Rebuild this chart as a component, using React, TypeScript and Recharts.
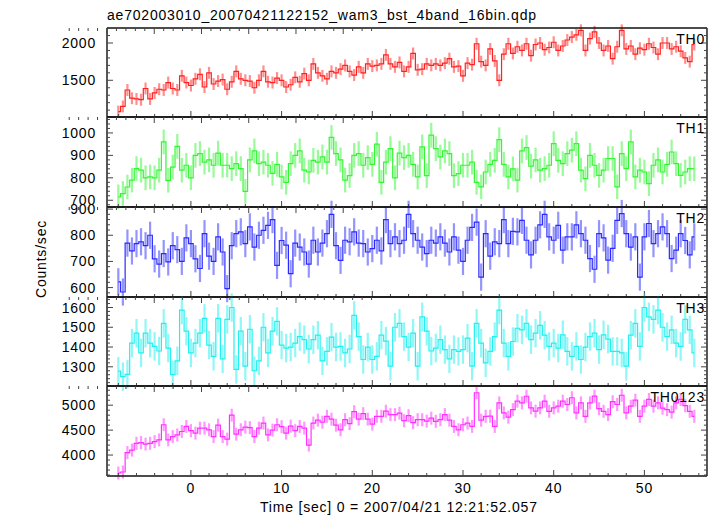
import { ErrorBar, Line, LineChart, XAxis, YAxis } from 'recharts'

// light curve bins: first bin centre and bin width (sec)
const T0 = -8
const BIN = 0.5

const TH0 = [
  1080, 1150, 1370, 1260, 1250, 1240, 1390, 1250, 1330, 1380, 1370, 1470, 1390, 1370, 1560, 1470,
  1430, 1520, 1580, 1410, 1600, 1450, 1490, 1510, 1380, 1480, 1620, 1520, 1500, 1490, 1400, 1500,
  1620, 1480, 1470, 1530, 1500, 1410, 1440, 1540, 1480, 1590, 1500, 1720, 1600, 1560, 1520, 1620,
  1600, 1650, 1700, 1620, 1570, 1680, 1600, 1720, 1690, 1700, 1720, 1840, 1720, 1680, 1740, 1620,
  1680, 1860, 1640, 1650, 1720, 1700, 1720, 1700, 1730, 1790, 1680, 1690, 1560, 1730, 1710, 1990,
  1750, 1700, 1920, 1760, 1500, 1850, 1990, 1860, 1950, 1900, 1990, 1830, 1980, 2000, 1910, 1940,
  2010, 1900, 1960, 2040, 2080, 2110, 2170, 1900, 2060, 2150, 2000, 1900, 1960, 1790, 1950, 2170,
  1920, 1960, 1850, 1930, 1910, 1990, 1940, 1850, 2000, 2000, 1920, 1950, 1890, 1800, 1750, 1980,
]
const TH1 = [
  715, 730, 759, 790, 841, 834, 800, 804, 800, 834, 960, 789, 848, 940, 834, 856,
  800, 900, 908, 870, 880, 856, 910, 856, 856, 841, 863, 841, 740, 880, 920, 863,
  870, 856, 820, 860, 804, 780, 863, 900, 920, 834, 826, 878, 870, 893, 870, 980,
  908, 880, 790, 810, 900, 908, 856, 890, 860, 950, 780, 870, 930, 800, 910, 890,
  900, 860, 804, 938, 810, 990, 930, 893, 920, 908, 810, 819, 856, 856, 870, 780,
  760, 826, 860, 878, 970, 860, 804, 840, 790, 920, 935, 852, 880, 834, 841, 856,
  952, 878, 863, 908, 923, 952, 834, 796, 900, 856, 811, 834, 886, 886, 760, 908,
  841, 960, 804, 834, 826, 774, 856, 880, 826, 860, 915, 863, 811, 826, 841, 840,
]
const TH2 = [
  622, 583, 770, 740, 768, 775, 760, 800, 710, 690, 730, 698, 760, 745, 700, 790,
  768, 710, 673, 806, 720, 700, 794, 736, 596, 760, 806, 813, 768, 832, 755, 800,
  819, 838, 860, 685, 780, 762, 653, 770, 755, 736, 690, 781, 736, 770, 806, 880,
  760, 704, 781, 775, 813, 770, 768, 736, 749, 781, 740, 860, 768, 794, 768, 781,
  880, 806, 781, 755, 730, 781, 770, 794, 770, 736, 794, 743, 700, 781, 830, 850,
  640, 806, 720, 775, 768, 860, 768, 815, 813, 857, 781, 725, 781, 840, 880, 794,
  781, 838, 743, 794, 794, 840, 806, 781, 711, 670, 806, 790, 705, 750, 857, 883,
  806, 755, 794, 640, 794, 845, 768, 806, 832, 806, 711, 743, 806, 780, 725, 794,
]
const TH3 = [
  1278, 1250, 1262, 1420, 1470, 1370, 1470, 1420, 1403, 1380, 1520, 1395, 1260, 1330, 1587, 1480,
  1370, 1420, 1470, 1545, 1410, 1353, 1545, 1340, 1540, 1600, 1287, 1480, 1303, 1490, 1280, 1330,
  1500, 1370, 1480, 1530, 1410, 1395, 1400, 1420, 1453, 1437, 1390, 1437, 1460, 1330, 1378, 1450,
  1400, 1403, 1370, 1390, 1560, 1453, 1337, 1400, 1337, 1353, 1460, 1430, 1303, 1500, 1520, 1453,
  1400, 1470, 1303, 1553, 1480, 1380, 1395, 1437, 1387, 1340, 1387, 1378, 1387, 1445, 1303, 1520,
  1420, 1320, 1378, 1453, 1587, 1420, 1353, 1428, 1495, 1487, 1520, 1437, 1470, 1510, 1460, 1403,
  1420, 1395, 1462, 1378, 1353, 1403, 1337, 1400, 1453, 1470, 1387, 1462, 1440, 1378, 1378, 1370,
  1303, 1460, 1520, 1403, 1600, 1553, 1540, 1587, 1500, 1453, 1487, 1420, 1403, 1540, 1487, 1370,
]
const TH0123 = [
  3640, 3660, 4050, 4100, 4236, 4250, 4220, 4236, 4270, 4304, 4608, 4304, 4371, 4405, 4473, 4574,
  4490, 4440, 4540, 4540, 4507, 4371, 4600, 4371, 4320, 4800, 4420, 4507, 4560, 4550, 4371, 4540,
  4642, 4405, 4500, 4608, 4570, 4440, 4580, 4490, 4574, 4540, 4200, 4642, 4700, 4660, 4777, 4720,
  4600, 4507, 4709, 4630, 4870, 4720, 4830, 4720, 4620, 4777, 4777, 4880, 4811, 4811, 4840, 4690,
  4790, 4650, 4709, 4709, 4680, 4740, 4676, 4709, 4811, 4700, 4574, 4507, 4608, 4642, 4574, 5250,
  4700, 4777, 4780, 4574, 5047, 4845, 4760, 4910, 5081, 5047, 5180, 4946, 4880, 4946, 5080, 4878,
  4946, 4980, 5080, 5014, 5150, 4845, 5047, 4777, 5047, 5182, 4930, 4878, 4811, 5070, 5014, 5200,
  4845, 4980, 5100, 4777, 4980, 5115, 4980, 5047, 4940, 4912, 4860, 5047, 5115, 4990, 4878, 4777,
]

// typical 1-sigma error per band
const ERR_TH0 = 80
const ERR_TH1 = 55
const ERR_TH2 = 52
const ERR_TH3 = 72
const ERR_TH0123 = 130

const X_DOMAIN: [number, number] = [-9.25, 56.9]
const X_MAJOR = [0, 10, 20, 30, 40, 50]
const X_MINOR = [-8, -6, -4, -2, 0, 2, 4, 6, 8, 10, 12, 14, 16, 18, 20, 22, 24, 26, 28, 30, 32, 34, 36, 38, 40, 42, 44, 46, 48, 50, 52, 54, 56]

const Y_MAJOR_TH0 = [1500, 2000]
const Y_MINOR_TH0 = [1100, 1200, 1300, 1400, 1500, 1600, 1700, 1800, 1900, 2000, 2100, 2200]
const Y_MAJOR_TH1 = [700, 800, 900, 1000]
const Y_MINOR_TH1 = [680, 700, 720, 740, 760, 780, 800, 820, 840, 860, 880, 900, 920, 940, 960, 980, 1000, 1020, 1040, 1060]
const Y_MAJOR_TH2 = [600, 700, 800, 900]
const Y_MINOR_TH2 = [580, 600, 620, 640, 660, 680, 700, 720, 740, 760, 780, 800, 820, 840, 860, 880, 900]
const Y_MAJOR_TH3 = [1300, 1400, 1500, 1600]
const Y_MINOR_TH3 = [1220, 1240, 1260, 1280, 1300, 1320, 1340, 1360, 1380, 1400, 1420, 1440, 1460, 1480, 1500, 1520, 1540, 1560, 1580, 1600, 1620, 1640]
const Y_MAJOR_TH0123 = [4000, 4500, 5000]
const Y_MINOR_TH0123 = [3600, 3700, 3800, 3900, 4000, 4100, 4200, 4300, 4400, 4500, 4600, 4700, 4800, 4900, 5000, 5100, 5200, 5300]

const FONT = '"Liberation Sans", Arial, sans-serif'
const FRAME = '#111'
const TICK = '#444'

const PANELS = [
  { name: 'TH0', values: TH0, err: ERR_TH0, color: '#ff2020', domain: [1008, 2201], major: Y_MAJOR_TH0, minor: Y_MINOR_TH0, top: 28, h: 89 },
  { name: 'TH1', values: TH1, err: ERR_TH1, color: '#33f533', domain: [670, 1071], major: Y_MAJOR_TH1, minor: Y_MINOR_TH1, top: 117, h: 90 },
  { name: 'TH2', values: TH2, err: ERR_TH2, color: '#2a2aff', domain: [564, 908], major: Y_MAJOR_TH2, minor: Y_MINOR_TH2, top: 207, h: 90 },
  { name: 'TH3', values: TH3, err: ERR_TH3, color: '#22f0f0', domain: [1203, 1653], major: Y_MAJOR_TH3, minor: Y_MINOR_TH3, top: 297, h: 89 },
  { name: 'TH0123', values: TH0123, err: ERR_TH0123, color: '#ff30ff', domain: [3580, 5385], major: Y_MAJOR_TH0123, minor: Y_MINOR_TH0123, top: 386, h: 90 },
]

const PAD = 12
const THIN = 0.01
const MAJ_LEN = 6
const MIN_LEN = 3

type Side = 'left' | 'right' | 'top' | 'bottom'

// inward-pointing tick mark (major/minor) at the coordinate recharts hands us,
// plus a label for majors when asked
function makeTick(side: Side, majors: number[], labelled: boolean) {
  return function TickMark(props: any) {
    const { x, y, payload } = props
    const isMajor = majors.includes(payload.value)
    const len = isMajor ? MAJ_LEN : MIN_LEN
    let line
    if (side === 'left') line = <line x1={x} y1={y} x2={x + len} y2={y} stroke={TICK} />
    else if (side === 'right') line = <line x1={x} y1={y} x2={x - len} y2={y} stroke={TICK} />
    else if (side === 'top') line = <line x1={x} y1={y} x2={x} y2={y + len} stroke={TICK} />
    else line = <line x1={x} y1={y} x2={x} y2={y - len} stroke={TICK} />
    let label = null
    if (labelled && isMajor) {
      label =
        side === 'left' ? (
          <text x={x - 11} y={y} dy="0.36em" textAnchor="end" fontSize={14} fill="#000">
            {payload.value}
          </text>
        ) : (
          <text x={x} y={y + 7} dy="0.71em" textAnchor="middle" fontSize={14} fill="#000">
            {payload.value}
          </text>
        )
    }
    return (
      <g>
        {line}
        {label}
      </g>
    )
  }
}

function Panel({ p, last }: { p: (typeof PANELS)[number]; last: boolean }) {
  const axisH = last ? 22 : THIN
  const data = p.values.map((v, i) => ({ t: T0 + i * BIN, v, e: p.err }))
  const frame = { stroke: FRAME, strokeWidth: 1.4 }
  return (
    <div style={{ position: 'absolute', left: 0, top: p.top - PAD }}>
      <LineChart
        width={717}
        height={p.h + 2 * PAD + (last ? axisH : 0)}
        data={data}
        margin={{ top: PAD, right: 10, bottom: PAD, left: 0 }}
      >
        <XAxis
          xAxisId="x"
          dataKey="t"
          type="number"
          domain={X_DOMAIN}
          allowDataOverflow
          ticks={X_MINOR}
          interval={0}
          height={axisH}
          tickSize={0}
          tickMargin={0}
          axisLine={frame}
          tickLine={false}
          tick={makeTick('bottom', X_MAJOR, last)}
        />
        <XAxis
          xAxisId="xt"
          type="number"
          orientation="top"
          domain={X_DOMAIN}
          allowDataOverflow
          ticks={X_MINOR}
          interval={0}
          height={THIN}
          tickSize={0}
          tickMargin={0}
          axisLine={frame}
          tickLine={false}
          tick={makeTick('top', X_MAJOR, false)}
        />
        <YAxis
          yAxisId="y"
          type="number"
          domain={p.domain}
          allowDataOverflow
          ticks={p.minor}
          interval={0}
          width={107}
          tickSize={0}
          tickMargin={0}
          axisLine={frame}
          tickLine={false}
          tick={makeTick('left', p.major, true)}
        />
        <YAxis
          yAxisId="yr"
          type="number"
          orientation="right"
          domain={p.domain}
          allowDataOverflow
          ticks={p.minor}
          interval={0}
          width={THIN}
          tickSize={0}
          tickMargin={0}
          axisLine={frame}
          tickLine={false}
          tick={makeTick('right', p.major, false)}
        />

        {/* error bars underneath, step line on top */}
        <Line xAxisId="x" yAxisId="y" dataKey="v" type="step" stroke="none" dot={false} activeDot={false} isAnimationActive={false}>
          <ErrorBar dataKey="e" direction="y" width={0} stroke={p.color} strokeOpacity={0.5} strokeWidth={2.2} isAnimationActive={false} />
        </Line>
        <Line xAxisId="x" yAxisId="y" dataKey="v" type="step" stroke={p.color} strokeWidth={1.2} dot={false} activeDot={false} isAnimationActive={false} />
      </LineChart>
    </div>
  )
}

export default function App() {
  return (
    <div
      style={{
        position: 'absolute',
        left: 0,
        top: 0,
        width: 717,
        height: 516,
        background: '#fff',
        fontFamily: FONT,
        letterSpacing: '0.8px',
        overflow: 'hidden',
      }}
    >
      {PANELS.map((p, i) => (
        <Panel key={p.name} p={p} last={i === PANELS.length - 1} />
      ))}
      <svg width={717} height={516} style={{ position: 'absolute', left: 0, top: 0, pointerEvents: 'none' }}>
        <text x={107} y={20} fontSize={14} fill="#000">
          ae702003010_20070421122152_wam3_bst_4band_16bin.qdp
        </text>
        <text transform="translate(46,259) rotate(-90)" textAnchor="middle" fontSize={14} fill="#000">
          Counts/sec
        </text>
        <text x={260} y={511.5} fontSize={14} fill="#000">
          Time [sec] 0 = 2007/04/21 12:21:52.057
        </text>
        {PANELS.map((p) => (
          <text key={p.name} x={705} y={p.top + 15.5} textAnchor="end" fontSize={14} fill="#000">
            {p.name}
          </text>
        ))}
      </svg>
    </div>
  )
}
